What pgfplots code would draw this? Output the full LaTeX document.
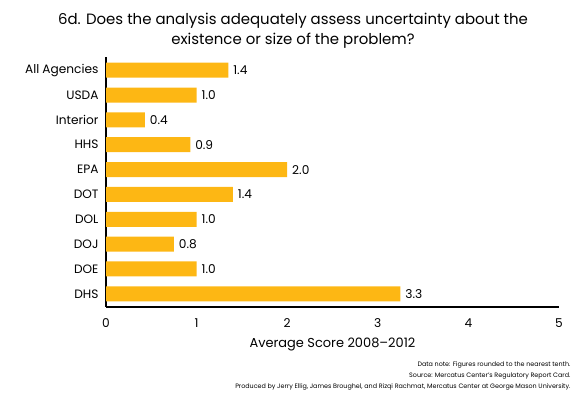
\documentclass[border=0pt]{standalone}
\usepackage{pgfplots}
\pgfplotsset{compat=1.18}
\usepackage{fontspec}
\setmainfont{Poppins}
\definecolor{gold}{HTML}{FDB714}
\begin{document}
\begin{tikzpicture}[x=1bp,y=1bp]
\path[use as bounding box] (0,0) rectangle (585,397);
\begin{axis}[
  at={(106bp,90bp)}, anchor=south west, scale only axis,
  width=453bp, height=250bp,
  xmin=0, xmax=5, ymin=-0.53, ymax=9.53, y dir=reverse,
  xbar, bar width=15bp, bar shift=0pt,
  axis x line*=bottom, axis y line*=left,
  axis line style={line width=1.2bp, black},
  xtick={0,1,2,3,4,5}, ytick={0,...,9},
  yticklabels={All Agencies,USDA,Interior,HHS,EPA,DOT,DOL,DOJ,DOE,DHS},
  major tick length=0pt,
  tick label style={font=\fontsize{12.2}{14}\selectfont},
  xticklabel style={yshift=-8bp},
  yticklabel style={xshift=-4bp},
  /pgf/number format/assume math mode=true,
  xlabel={Average Score 2008--2012},
  xlabel style={font=\fontsize{13}{15}\selectfont, yshift=-4bp},
  nodes near coords, point meta=explicit symbolic,
  nodes near coords style={font=\fontsize{12.2}{14}\selectfont, anchor=west, xshift=1.5bp, black},
  clip=false,
]
\addplot[fill=gold, draw=none] coordinates {
  (1.35,0) [1.4]
  (1.0,1) [1.0]
  (0.43,2) [0.4]
  (0.93,3) [0.9]
  (2.0,4) [2.0]
  (1.4,5) [1.4]
  (1.0,6) [1.0]
  (0.75,7) [0.8]
  (1.0,8) [1.0]
  (3.25,9) [3.3]
};
\end{axis}
\node[font=\fontsize{15}{17}\selectfont] at (293,376) {6d. Does the analysis adequately assess uncertainty about the};
\node[font=\fontsize{15}{17}\selectfont] at (293,356) {existence or size of the problem?};
\node[font=\fontsize{6.4}{8}\selectfont, anchor=east] at (574,32) {Data note: Figures rounded to the nearest tenth.};
\node[font=\fontsize{6.4}{8}\selectfont, anchor=east] at (574,21) {Source: Mercatus Center's Regulatory Report Card.};
\node[font=\fontsize{6.4}{8}\selectfont, anchor=east] at (574,10) {Produced by Jerry Ellig, James Broughel, and Rizqi Rachmat, Mercatus Center at George Mason University.};
\end{tikzpicture}
\end{document}
